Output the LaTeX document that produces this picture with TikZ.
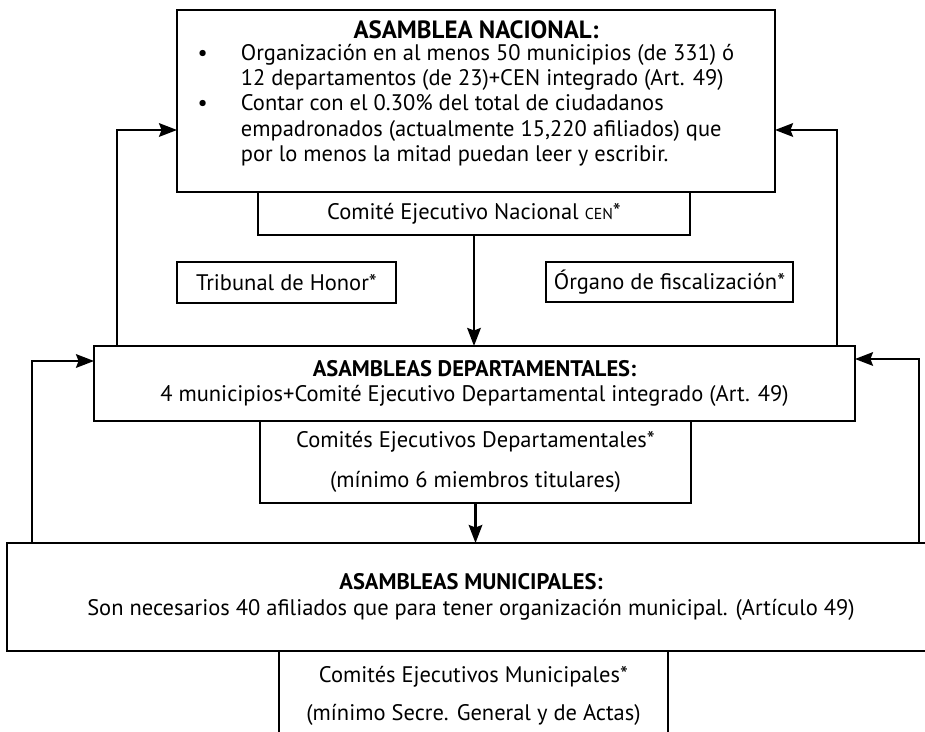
\documentclass[tikz,border=0pt]{standalone}
\usepackage{fontspec}
\setmainfont{PT Sans}
\usetikzlibrary{arrows.meta,calc}

\begin{document}
\begin{tikzpicture}[x=0.02cm, y=-0.02cm,
    caja/.style={draw, line width=1.5pt, inner sep=0pt, outer sep=0pt, align=center,
        font=\fontsize{12.8}{14.4}\selectfont},
    flecha/.style={-{Stealth[length=3.6mm, width=2.7mm, inset=0.5mm]}, line width=1.5pt}]
    % page
	\useasboundingbox (0,0) rectangle (925,732);
    % national level
	\node[caja, minimum width=11.96cm, minimum height=3.64cm] (nacional) at (476,101) {%
		{\fontsize{14.2}{16}\selectfont\bfseries ASAMBLEA NACIONAL:}\\[1pt]
		\begin{tabular}{@{}l@{\hspace{0.66cm}}l@{\hspace{0.4cm}}}
		\textbullet & Organización en al menos 50 municipios (de 331) ó\\
		 & 12 departamentos (de 23)+CEN integrado (Art. 49)\\
		\textbullet & Contar con el 0.30\% del total de ciudadanos\\
		 & empadronados (actualmente 15,220 afiliados) que\\
		 & por lo menos la mitad puedan leer y escribir.
		\end{tabular}\\[6pt]};
	\node[caja, minimum width=8.64cm, minimum height=0.86cm] (cen) at (474,213.5)
		{Comité Ejecutivo Nacional {\fontsize{9}{10}\selectfont CEN}*};
	\node[caja, minimum width=4.38cm, minimum height=0.82cm] (tribunal) at (286.5,282.5) {Tribunal de Honor*};
	\node[caja, minimum width=4.94cm, minimum height=0.8cm] (organo) at (669.5,282) {Órgano de fiscalización*};
    % departmental level
	\node[caja, minimum width=15.22cm, minimum height=1.5cm] (dept) at (474.5,383.5)
		{\textbf{ASAMBLEAS DEPARTAMENTALES:}\\
		4 municipios+Comité Ejecutivo Departamental integrado (Art. 49)};
	\node[caja, minimum width=8.62cm, minimum height=1.64cm] (deptcom) at (475.5,462)
		{Comités Ejecutivos Departamentales*\\[8pt](mínimo 6 miembros titulares)};
    % municipal level
	\node[caja, minimum width=18.56cm, minimum height=2.16cm] (muni) at (471,597)
		{\textbf{ASAMBLEAS MUNICIPALES:}\\
		Son necesarios 40 afiliados que para tener organización municipal. (Artículo 49)};
	\node[caja, minimum width=7.78cm, minimum height=1.8cm] (municom) at (473.5,696)
		{Comités Ejecutivos Municipales*\\[7pt](mínimo Secre. General y de Actas)};

    % arrows down
	\draw[flecha] (cen.south) -- (cen.south |- dept.north);
	\draw[flecha] (deptcom.south) -- (deptcom.south |- muni.north);
    % arrows up
	\coordinate (lup) at (117,130);
	\coordinate (rup) at (837,130);
	\coordinate (lout) at (32,361);
	\coordinate (rout) at (919,359);
	\draw[flecha] (dept.north -| lup) |- (nacional.west |- lup);
	\draw[flecha] (dept.north -| rup) |- (nacional.east |- rup);
	\draw[flecha] (muni.north -| lout) |- (dept.west |- lout);
	\draw[flecha] (muni.north -| rout) |- (dept.east |- rout);
\end{tikzpicture}
\end{document}
